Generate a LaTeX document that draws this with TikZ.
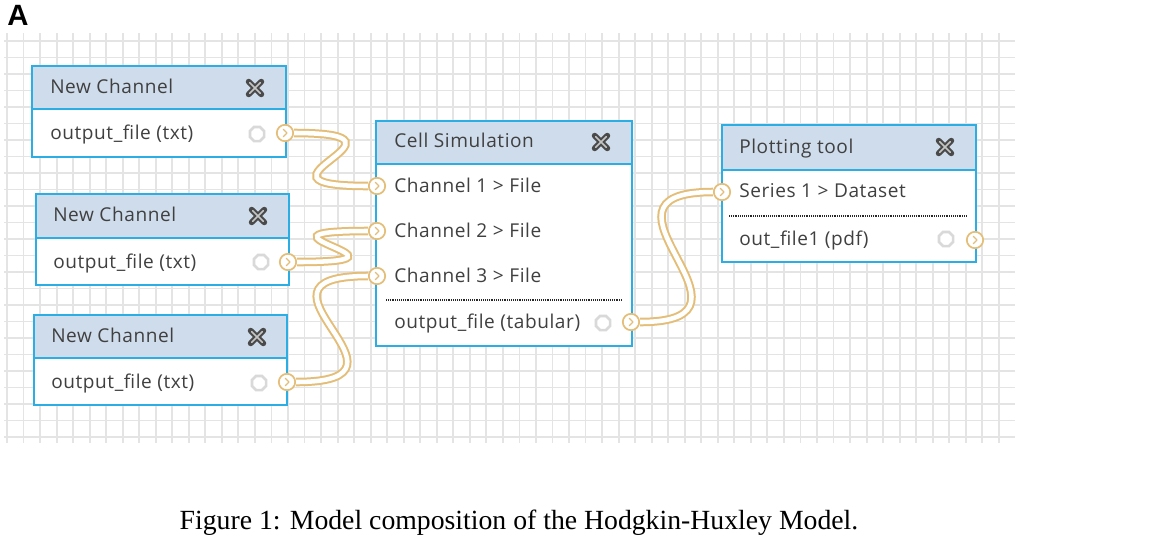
\documentclass[tikz,border=0pt]{standalone}
\usepackage{fontspec}
\setmainfont{Liberation Serif}
\newfontfamily\uifont{Open Sans}[LetterSpace=3]
\newfontfamily\afont{Liberation Sans}
\usetikzlibrary{fit,shapes.geometric}
\definecolor{gridc}{HTML}{E4E4E4}
\definecolor{framec}{HTML}{2AAEE3}
\definecolor{hdrc}{HTML}{CFDCEB}
\definecolor{txtc}{HTML}{404040}
\definecolor{tanc}{HTML}{E4BE78}
\definecolor{gearc}{HTML}{D9D9D9}
\definecolor{xdark}{HTML}{4A4A4A}
\definecolor{xlight}{HTML}{C4C4C4}
\begin{document}
\begin{tikzpicture}[x=0.75pt,y=-0.75pt,
 gridline/.style={gridc, line width=1.4pt},
 body/.style={draw=framec, fill=white, line width=1.1pt, inner sep=0pt},
 hdr/.style={draw=framec, fill=hdrc, line width=1.1pt, inner sep=0pt},
 lbl/.style={font=\uifont\fontsize{14.3}{17}\selectfont, text=txtc, inner sep=0pt, anchor=base west},
 port/.style={circle, draw=tanc, fill=white, line width=1.3pt, minimum size=12.3pt, inner sep=0pt,
   path picture={\draw[tanc, line width=1pt, line cap=round, line join=round]
     ([xshift=-1.3pt,yshift=2.8pt]path picture bounding box.center) -- ++(2.8pt,-2.8pt) -- ++(-2.8pt,-2.8pt);}},
 gear/.style={regular polygon, regular polygon sides=8, draw=gearc, line width=2pt, minimum size=11.5pt, inner sep=0pt, fill=white},
 wire/.style={draw=tanc, line width=1.5pt, double=white, double distance=3.4pt},
 dotline/.style={line width=0.9pt, dash pattern=on 0.7pt off 0.7pt, draw=black!85},
 closeicon/.pic={\draw[xdark, line width=4.4pt, line cap=round] (-6.3,-6.3) -- (6.3,6.3) (-6.3,6.3) -- (6.3,-6.3);
   \draw[xlight, line width=1.3pt, line cap=round] (-5.2,-5.2) -- (5.2,5.2) (-5.2,5.2) -- (5.2,-5.2);}
]
\useasboundingbox (0,0) rectangle (1168,558);
% grid
\foreach \i in {0,...,60} \draw[gridline] ({7+16.53*\i},33) -- ({7+16.53*\i},443);
\foreach \j in {0,...,24} \draw[gridline] (4,{41+16.5*\j}) -- (1015,{41+16.5*\j});
% label A
\node[font=\afont\bfseries\fontsize{22}{24}\selectfont, anchor=base west, inner sep=0pt] (lab) at (7,25) {A};
% New Channel 1
\node[body, fit={(32,66) (286,157)}] (nc1) {};
\node[hdr, fit={(32,66) (286,109)}] (nc1h) {};
\node[lbl] (nc1t) at (50,93) {New Channel};
\node[lbl] (nc1r) at (50,139) {output\_file (txt)};
\pic (nc1x) at (255,88) {closeicon};
\node[gear] (nc1g) at (257,134) {};
\node[port] (n1o) at (285,133) {};
% New Channel 2
\node[body, fit={(36,194) (289,285)}] (nc2) {};
\node[hdr, fit={(36,194) (289,238)}] (nc2h) {};
\node[lbl] (nc2t) at (53,221) {New Channel};
\node[lbl] (nc2r) at (53,268) {output\_file (txt)};
\pic (nc2x) at (258,216) {closeicon};
\node[gear] (nc2g) at (261,262) {};
\node[port] (n2o) at (288,262) {};
% New Channel 3
\node[body, fit={(34,315) (287,405)}] (nc3) {};
\node[hdr, fit={(34,315) (287,358)}] (nc3h) {};
\node[lbl] (nc3t) at (51,342) {New Channel};
\node[lbl] (nc3r) at (51,388) {output\_file (txt)};
\pic (nc3x) at (257,337) {closeicon};
\node[gear] (nc3g) at (259,383) {};
\node[port] (n3o) at (287,382) {};
% Cell Simulation
\node[body, fit={(376,121) (632,346)}] (cs) {};
\node[hdr, fit={(376,121) (632,164)}] (csh) {};
\node[lbl] (cst) at (394,147) {Cell Simulation};
\node[lbl] (csr1) at (394,192) {Channel 1 > File};
\node[lbl] (csr2) at (394,237) {Channel 2 > File};
\node[lbl] (csr3) at (394,282) {Channel 3 > File};
\coordinate (csd1) at (386,300);
\coordinate (csd2) at (623,300);
\draw[dotline] (csd1) -- (csd2);
\node[lbl] (csr4) at (394,328) {output\_file (tabular)};
\pic (csx) at (601,142) {closeicon};
\node[gear] (csg) at (603,323) {};
\node[port] (ci1) at (377,186) {};
\node[port] (ci2) at (377,231) {};
\node[port] (ci3) at (377,276) {};
\node[port] (cso) at (631,322) {};
% Plotting tool
\node[body, fit={(722,125) (976,262)}] (pt) {};
\node[hdr, fit={(722,125) (976,170)}] (pth) {};
\node[lbl] (ptt) at (739,153) {Plotting tool};
\node[lbl] (ptr1) at (739,197) {Series 1 > Dataset};
\coordinate (ptd1) at (729,216);
\coordinate (ptd2) at (967,216);
\draw[dotline] (ptd1) -- (ptd2);
\node[lbl] (ptr2) at (739,245) {out\_file1 (pdf)};
\pic (ptx) at (945,147) {closeicon};
\node[gear] (ptg) at (946,239) {};
\node[port] (pti) at (722,192) {};
\node[port] (pto) at (975,240) {};
% wires
\draw[wire] (n1o) .. controls +(150,0) and +(-150,0) .. (ci1);
\draw[wire] (n2o) .. controls +(150,0) and +(-150,0) .. (ci2);
\draw[wire] (n3o) .. controls +(150,0) and +(-150,0) .. (ci3);
\draw[wire] (cso) .. controls +(150,0) and +(-150,0) .. (pti);
% caption
\node[font=\fontsize{20.8}{24}\selectfont, anchor=base] (cap) at (519,529) {Figure 1: Model composition of the Hodgkin-Huxley Model.};
\end{tikzpicture}
\end{document}
